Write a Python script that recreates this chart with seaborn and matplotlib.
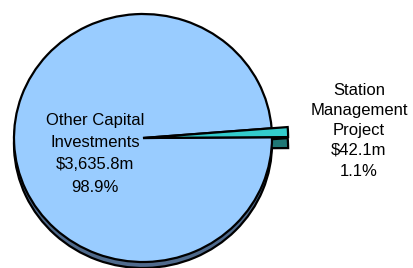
import matplotlib
matplotlib.use("Agg")
import matplotlib.pyplot as plt
import seaborn as sns

# ---- data ----
categories = ["Other Capital Investments", "Station Management Project"]
values = [3635.8, 42.1]
value_labels = ["$3,635.8m", "$42.1m"]
pct_labels = ["98.9%", "1.1%"]
name_lines = [["Other Capital", "Investments"], ["Station", "Management", "Project"]]

top_colors = ["#99CCFF", "#33CCCC"]
side_colors = ["#4F6A8C", "#1F7775"]

sns.set_theme(style="white")
plt.rcParams["font.family"] = ["Liberation Sans", "DejaVu Sans"]

W, H = 414, 268
fig = plt.figure(figsize=(W / 100, H / 100), dpi=100)
ax = fig.add_axes([0, 0, 1, 1])

rx, ry = 129.0, 124.0
k = rx / ry  # stretch so a circle in data units renders as an ellipse


def P(px, py):
    return px, (H - py) * k


cx, cy = P(143, 138)
start = 4.5
lw = 1.6

# shadow (depth) of big slice
w_side, _ = ax.pie(values, colors=side_colors, startangle=start, radius=rx,
                   center=(cx, cy - 6 * k), counterclock=True,
                   wedgeprops=dict(edgecolor="black", linewidth=lw))
w_side[1].set_visible(False)
# shadow of small slice (larger radius)
w_side2, _ = ax.pie(values, colors=side_colors, startangle=start, radius=rx * 1.125,
                    center=(cx, cy - 11 * k), counterclock=True,
                    wedgeprops=dict(edgecolor="black", linewidth=lw))
w_side2[0].set_visible(False)
# top face of big slice
w_top, _ = ax.pie(values, colors=top_colors, startangle=start, radius=rx,
                  center=(cx, cy), counterclock=True,
                  wedgeprops=dict(edgecolor="black", linewidth=lw))
w_top[1].set_visible(False)
# top face of small slice
w_top2, _ = ax.pie(values, colors=top_colors, startangle=start, radius=rx * 1.125,
                   center=(cx, cy), counterclock=True,
                   wedgeprops=dict(edgecolor="black", linewidth=lw))
w_top2[0].set_visible(False)

ax.set_aspect("auto")
ax.set_xlim(0, W)
ax.set_ylim(0, H * k)
ax.axis("off")

fs = 12
# left label
left_lines = name_lines[0] + [value_labels[0], pct_labels[0]]
for txt, py in zip(left_lines, [120, 142.5, 164.5, 187]):
    x, y = P(95, py)
    ax.text(x, y, txt, ha="center", va="center", fontsize=fs, color="black")

# right label
right_lines = name_lines[1] + [value_labels[1], pct_labels[1]]
for txt, py in zip(right_lines, [90, 110.5, 130.5, 150.5, 171]):
    x, y = P(359, py)
    ax.text(x, y, txt, ha="center", va="center", fontsize=fs, color="black")

fig.savefig("out.png", dpi=100, facecolor="white")
